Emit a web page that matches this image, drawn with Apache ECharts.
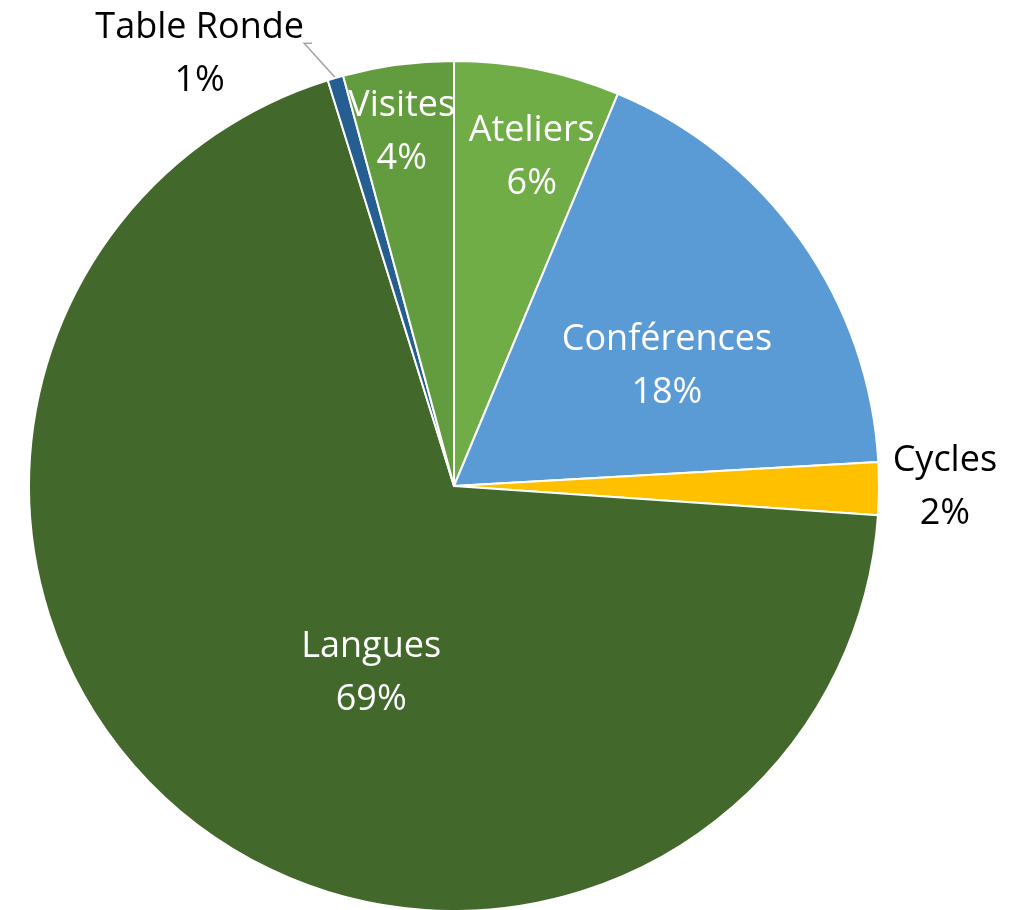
<!DOCTYPE html>
<html>
<head>
<meta charset="utf-8">
<script src="https://cdn.jsdelivr.net/npm/echarts@6/dist/echarts.min.js"></script>
<style>
  html, body { margin: 0; padding: 0; background: #fff; }
  #chart { width: 1030px; height: 910px; }
</style>
</head>
<body>
<div id="chart"></div>
<script>
// categories and shares (clockwise from 12 o'clock)
const categories = ['Ateliers', 'Conférences', 'Cycles', 'Langues', 'Table Ronde', 'Visites'];
const shares = [6.3, 17.8, 2.0, 69.1, 0.6, 4.2];

const colors = ['#70AD47', '#5B9BD5', '#FFC000', '#43682B', '#255E91', '#639C3E'];

// pie geometry (px)
const CX = 454, CY = 486, R = 425;

// label placement: [angle from top clockwise (deg), distance as fraction of radius]
const labelSpots = [
  [13.3, 0.795],
  [60.6, 0.575],
  [90.2, 1.155],
  [203.9, 0.481],
  [329.5, 1.179],
  [351.6, 0.842]
];
const outsideLabels = ['Cycles', 'Table Ronde'];

function polar(angleDeg, ratio) {
  const a = angleDeg * Math.PI / 180;
  return [CX + Math.sin(a) * R * ratio, CY - Math.cos(a) * R * ratio];
}

const chart = echarts.init(document.getElementById('chart'));

const seriesData = categories.map((name, i) => {
  const outside = outsideLabels.indexOf(name) >= 0;
  return {
    name: name,
    value: shares[i],
    itemStyle: {color: colors[i]},
    label: {
      position: outside ? 'outside' : 'inside',
      color: outside ? '#000' : '#fff'
    },
    labelLine: {show: name === 'Table Ronde'}
  };
});

const option = {
  animation: false,
  backgroundColor: '#fff',
  series: [
    {
      type: 'pie',
      center: [CX, CY],
      radius: R,
      startAngle: 90,
      clockwise: true,
      avoidLabelOverlap: false,
      percentPrecision: 0,
      data: seriesData,
      itemStyle: {
        borderColor: '#fff',
        borderWidth: 2
      },
      label: {
        show: true,
        formatter: '{b}\n{d}%',
        fontFamily: 'Open Sans',
        fontSize: 36,
        lineHeight: 53,
        align: 'center'
      },
      labelLine: {
        lineStyle: {color: '#A6A6A6', width: 1.5}
      },
      labelLayout: function (params) {
        const i = params.dataIndex;
        const p = polar(labelSpots[i][0], labelSpots[i][1]);
        const res = {x: p[0], y: p[1], align: 'center', verticalAlign: 'middle'};
        if (categories[i] === 'Table Ronde') {
          // leader line: slice edge -> elbow -> end of the first label line
          const mid = 343.8;
          const p0 = polar(mid, 1.0);
          const p1 = polar(mid - 2.5, 1.1);
          const p2 = [p[0] + params.labelRect.width / 2 + 8, p1[1]];
          res.labelLinePoints = [p0, p1, p2];
        }
        return res;
      }
    }
  ]
};

chart.setOption(option);
</script>
</body>
</html>
